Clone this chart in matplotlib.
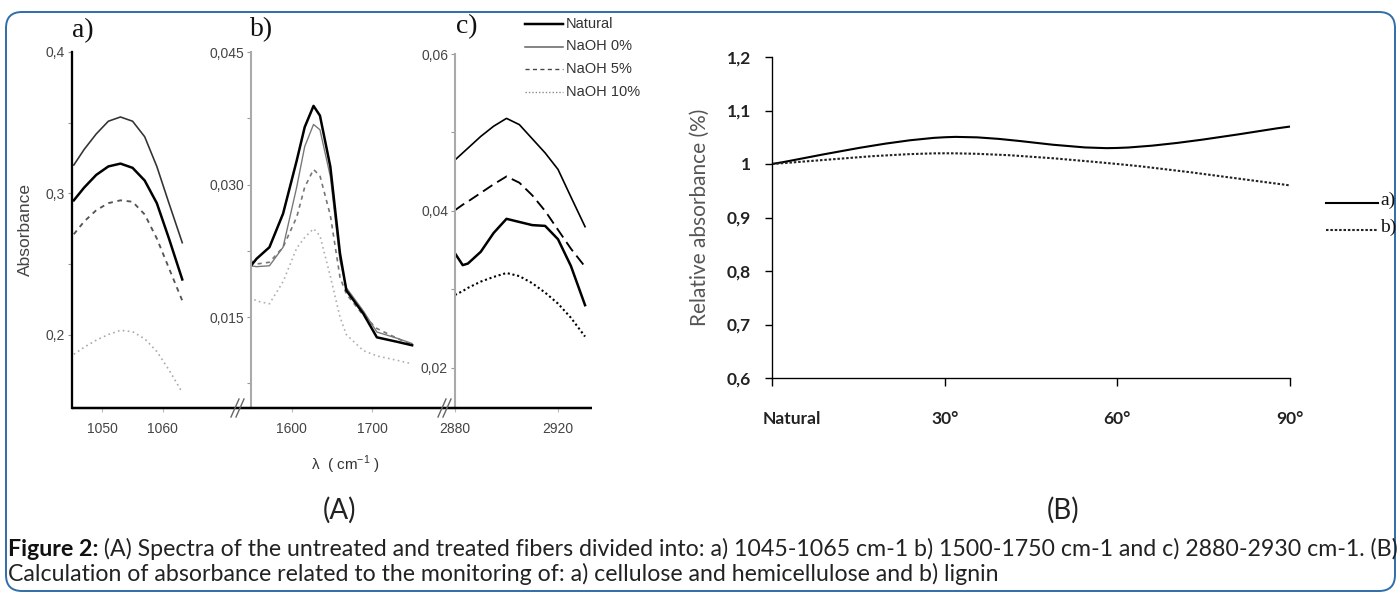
import numpy as np
import matplotlib
matplotlib.use('Agg')
import matplotlib.pyplot as plt
import matplotlib.transforms as mtransforms
from matplotlib.patches import FancyBboxPatch, PathPatch
from matplotlib.path import Path
from matplotlib.ticker import FuncFormatter

W, H = 1400, 595
plt.rcParams['font.family'] = ['Liberation Sans', 'DejaVu Sans']

# ---------------- data (A) ----------------
a_wavenumber = [1045.3, 1047, 1049, 1051, 1053, 1055, 1057, 1059, 1061, 1063.2]
a_natural = [0.295, 0.304, 0.313, 0.319, 0.321, 0.318, 0.309, 0.293, 0.268, 0.239]
a_naoh0 = [0.320, 0.331, 0.342, 0.351, 0.354, 0.351, 0.340, 0.319, 0.293, 0.265]
a_naoh5 = [0.271, 0.280, 0.288, 0.293, 0.295, 0.294, 0.285, 0.268, 0.247, 0.224]
a_naoh10 = [0.186, 0.191, 0.196, 0.200, 0.203, 0.202, 0.197, 0.188, 0.175, 0.159]

b_wavenumber = [1548, 1556, 1572, 1589, 1606, 1616, 1627, 1635, 1648, 1660, 1668, 1689, 1706, 1731, 1750]
b_natural = [0.0207, 0.0216, 0.0229, 0.0267, 0.0327, 0.0365, 0.0389, 0.0378, 0.0320, 0.0222, 0.0180, 0.0154, 0.0127, 0.0122, 0.0118]
b_naoh0 = [0.0208, 0.0207, 0.0208, 0.0229, 0.0297, 0.0343, 0.0368, 0.0362, 0.0309, 0.0214, 0.0183, 0.0157, 0.0133, 0.0126, 0.0120]
b_naoh5 = [0.0214, 0.0210, 0.0212, 0.0229, 0.0263, 0.0297, 0.0317, 0.0310, 0.0265, 0.0195, 0.0176, 0.0152, 0.0137, 0.0126, 0.0118]
b_naoh10 = [0.0173, 0.0168, 0.0165, 0.0190, 0.0228, 0.0240, 0.0250, 0.0242, 0.0196, 0.0150, 0.0130, 0.0112, 0.0106, 0.0101, 0.0097]

c_wavenumber = [2880, 2883, 2885, 2890, 2895, 2900, 2905, 2910, 2915, 2920, 2925, 2930.5]
c_natural = [0.0346, 0.0331, 0.0333, 0.0348, 0.0372, 0.0390, 0.0386, 0.0382, 0.0381, 0.0364, 0.0330, 0.0280]
c_naoh0 = [0.0465, 0.0474, 0.0480, 0.0495, 0.0508, 0.0518, 0.0510, 0.0492, 0.0474, 0.0453, 0.0418, 0.0380]
c_naoh5 = [0.0401, 0.0408, 0.0412, 0.0423, 0.0434, 0.0444, 0.0436, 0.0420, 0.0400, 0.0376, 0.0352, 0.0329]
c_naoh10 = [0.0293, 0.0298, 0.0302, 0.0310, 0.0316, 0.0321, 0.0317, 0.0308, 0.0296, 0.0282, 0.0264, 0.0240]

series_labels = ['Natural', 'NaOH 0%', 'NaOH 5%', 'NaOH 10%']
a_xticks = [1050, 1060]
b_xticks = [1600, 1700]
c_xticks = [2880, 2920]

# ---------------- data (B) ----------------
rel_categories = ['Natural', '30°', '60°', '90°']
rel_cellulose = [1.00, 1.05, 1.03, 1.07]
rel_lignin = [1.00, 1.02, 1.00, 0.96]
rel_yticks = [0.6, 0.7, 0.8, 0.9, 1.0, 1.1, 1.2]

caption_bold = 'Figure 2:'
caption_1 = ' (A) Spectra of the untreated and treated fibers divided into: a) 1045-1065 cm-1 b) 1500-1750 cm-1 and c) 2880-2930 cm-1. (B)'
caption_2 = 'Calculation of absorbance related to the monitoring of: a) cellulose and hemicellulose and b) lignin'

# ---------------- figure ----------------
fig = plt.figure(figsize=(W / 100, H / 100), dpi=100)
fig.patch.set_facecolor('white')


def px_axes(l, t, r, b, **kw):
    return fig.add_axes([l / W, 1 - b / H, (r - l) / W, (b - t) / H], **kw)


def comma(fmt):
    return FuncFormatter(lambda v, p: fmt.format(v).replace('.', ','))


def spec_axes(box, xlim, ylim, xticks, yticks, yminor, yfmt, spine_color, spine_lw):
    ax = px_axes(*box)
    ax.set_xlim(*xlim)
    ax.set_ylim(*ylim)
    for s in ['top', 'right', 'bottom']:
        ax.spines[s].set_visible(False)
    ax.spines['left'].set_color(spine_color)
    ax.spines['left'].set_linewidth(spine_lw)
    ax.set_xticks(xticks)
    ax.set_xticklabels([str(t) for t in xticks])
    ax.set_yticks(yticks)
    ax.yaxis.set_major_formatter(comma(yfmt))
    ax.set_yticks(yminor, minor=True)
    ax.tick_params(axis='y', which='both', direction='out', length=3, width=0.8,
                   color='#999999', labelsize=10, labelcolor='#444444', pad=2)
    ax.tick_params(axis='x', direction='out', length=3, width=0.8, color='#bbbbbb',
                   labelsize=10, labelcolor='#444444', pad=7)
    ax.patch.set_alpha(0)
    return ax


PTX = 0.75  # px -> pt

# panel a
ax_a = spec_axes((72, 52, 238, 408), (1045, 1072.4), (0.148, 0.4), a_xticks,
                 [0.2, 0.3, 0.4], [0.25, 0.35], '{:.1f}', 'black', 2.2 * PTX)
ax_a.plot(a_wavenumber, a_naoh0, color='#333333', lw=1.3 * PTX * 1.2)
ax_a.plot(a_wavenumber, a_natural, color='black', lw=2.4 * PTX)
ax_a.plot(a_wavenumber, a_naoh5, color='#555555', lw=1.8 * PTX, linestyle=(0, (2.5, 2.5)))
ax_a.plot(a_wavenumber, a_naoh10, color='#aaaaaa', lw=1.6 * PTX, linestyle=(0, (1, 2)))

# panel b
ax_b = spec_axes((251, 52, 445, 408), (1549, 1791), (0.0047, 0.045), b_xticks,
                 [0.015, 0.030, 0.045], [0.0075, 0.0225, 0.0375], '{:.3f}', '#aaaaaa', 2.0 * PTX)
ax_b.plot(b_wavenumber, b_naoh10, color='#b0b0b0', lw=1.6 * PTX, linestyle=(0, (1, 2)))
ax_b.plot(b_wavenumber, b_naoh5, color='#777777', lw=1.6 * PTX, linestyle=(0, (2.5, 2.5)))
ax_b.plot(b_wavenumber, b_naoh0, color='#777777', lw=1.3 * PTX)
ax_b.plot(b_wavenumber, b_natural, color='black', lw=2.4 * PTX)

# panel c
ax_c = spec_axes((455, 54, 592, 408), (2880, 2933.2), (0.0149, 0.06), c_xticks,
                 [0.02, 0.04, 0.06], [0.03, 0.05], '{:.2f}', '#aaaaaa', 2.0 * PTX)
ax_c.plot(c_wavenumber, c_naoh0, color='black', lw=1.6 * PTX)
ax_c.plot(c_wavenumber, c_naoh5, color='black', lw=1.8 * PTX, linestyle=(0, (6, 3)))
ax_c.plot(c_wavenumber, c_natural, color='black', lw=2.4 * PTX)
ax_c.plot(c_wavenumber, c_naoh10, color='black', lw=2.0 * PTX, linestyle=(0, (1, 1.3)))

# panel B
axB = px_axes(772, 57, 1290, 378)


def smooth_path(xs, ys):
    pts = np.column_stack([xs, ys]).astype(float)
    n = len(pts)
    verts = [pts[0]]
    codes = [Path.MOVETO]
    for i in range(n - 1):
        p0 = pts[i - 1] if i > 0 else pts[i]
        p1, p2 = pts[i], pts[i + 1]
        p3 = pts[i + 2] if i + 2 < n else pts[i + 1]
        verts += [p1 + (p2 - p0) / 6, p2 - (p3 - p1) / 6, p2]
        codes += [Path.CURVE4] * 3
    return Path(verts, codes)


LATO = ['Lato', 'DejaVu Sans']
xpos = np.arange(len(rel_categories))
axB.add_patch(PathPatch(smooth_path(xpos, rel_cellulose), fill=False, lw=2.0 * PTX,
                        ec='black', clip_on=False))
axB.add_patch(PathPatch(smooth_path(xpos, rel_lignin), fill=False, lw=2.0 * PTX,
                        ec='#222222', linestyle=(0, (1.2, 0.9)), clip_on=False))
axB.set_xlim(0, len(rel_categories) - 1)
axB.set_ylim(0.6, 1.2)
for s in ['top', 'right']:
    axB.spines[s].set_visible(False)
for s in ['left', 'bottom']:
    axB.spines[s].set_linewidth(1.3 * PTX)
axB.set_xticks(xpos)
axB.set_xticklabels(rel_categories, family=LATO, fontweight='bold',
                    fontsize=12.5, color='#222222')
axB.set_yticks(rel_yticks)
axB.yaxis.set_major_formatter(FuncFormatter(
    lambda v, p: ('{:.1f}'.format(v).rstrip('0').rstrip('.')).replace('.', ',')))
axB.tick_params(axis='y', direction='out', length=5, width=1, labelsize=12.5,
                labelcolor='#222222', pad=10)
axB.tick_params(axis='x', direction='out', length=6, width=1, pad=18)
for lab in axB.get_yticklabels():
    lab.set_family(LATO)
    lab.set_fontweight('bold')
# Excel nudges the first category label to the right
first = axB.get_xticklabels()[0]
first.set_transform(first.get_transform() +
                    mtransforms.ScaledTranslation(20 / 100, 0, fig.dpi_scale_trans))
axB.patch.set_alpha(0)

# ---------------- overlay (pixel coords) ----------------
ov = fig.add_axes([0, 0, 1, 1], zorder=5)
ov.set_xlim(0, W)
ov.set_ylim(H, 0)
ov.axis('off')
ov.patch.set_alpha(0)

ov.add_patch(FancyBboxPatch((6, 12), 1389, 579, boxstyle='round,pad=0,rounding_size=16',
                            ec='#2f6ea8', fc='none', lw=1.4))

# shared bottom axis of panel A with break marks
ov.plot([72, 592], [408, 408], color='black', lw=2.4 * PTX, solid_capstyle='butt')
for bx in (238, 445):
    for dx in (-3, 2):
        ov.plot([bx + dx - 4, bx + dx + 4], [417, 399], color='#666666', lw=1.0)

# panel letters
SERIF = ['Liberation Serif', 'DejaVu Serif']
for txt, x, y in [('a)', 83, 31), ('b)', 262, 30), ('c)', 467, 27)]:
    ov.text(x, y, txt, family=SERIF, fontsize=20, ha='center', va='center', color='#111111')

ov.text(25, 230, 'Absorbance', rotation=90, fontsize=12.5, color='#444444',
        ha='center', va='center')
ov.text(345, 465, r'λ  ( cm$^{\mathregular{-1}}$ )', fontsize=11, color='#333333',
        ha='center', va='center')

# legend of panel A
leg_styles = [dict(color='black', lw=2.4 * PTX),
              dict(color='#666666', lw=1.5 * PTX),
              dict(color='#444444', lw=1.3 * PTX, linestyle=(0, (3, 2.5))),
              dict(color='#888888', lw=1.3 * PTX, linestyle=(0, (1, 1.5)))]
for i, (lab, st) in enumerate(zip(series_labels, leg_styles)):
    y = 24 + i * 22.5
    ov.plot([525, 563], [y, y], **st)
    ov.text(566, y, lab, fontsize=10.5, color='#333333', ha='left', va='center')

# panel B labels
ov.text(700, 217, 'Relative absorbance (%)', family=LATO, rotation=90, fontsize=15,
        color='#555555', ha='center', va='center')
ov.plot([1326, 1378], [203, 203], color='black', lw=2.0 * PTX)
ov.plot([1326, 1378], [230, 230], color='#222222', lw=2.0 * PTX, linestyle=(0, (1.2, 0.9)))
ov.text(1380, 200, 'a)', family=SERIF, fontsize=14, ha='left', va='center', color='#111111')
ov.text(1380, 227, 'b)', family=SERIF, fontsize=14, ha='left', va='center', color='#111111')

ov.text(340, 510, '(A)', family=LATO, fontsize=20, ha='center', va='center', color='#222222')
ov.text(1063, 510, '(B)', family=LATO, fontsize=20, ha='center', va='center', color='#222222')

# caption, sized to the width of the frame
renderer = fig.canvas.get_renderer()
fs = 12
t_b = ov.text(8, 549, caption_bold, family=LATO, fontweight='bold', fontsize=fs,
              ha='left', va='center', color='#111111')
t_1 = ov.text(0, 549, caption_1, family=LATO, fontsize=fs, ha='left', va='center', color='#222222')
wb = t_b.get_window_extent(renderer).width
w1 = t_1.get_window_extent(renderer).width
scale = (1390 - 8) / (wb + w1)
fs2 = fs * scale
t_b.set_fontsize(fs2)
t_1.set_fontsize(fs2)
t_1.set_x(8 + wb * scale)
ov.text(8, 574, caption_2, family=LATO, fontsize=fs2, ha='left', va='center', color='#222222')

fig.savefig('out.png', dpi=100, facecolor='white')
